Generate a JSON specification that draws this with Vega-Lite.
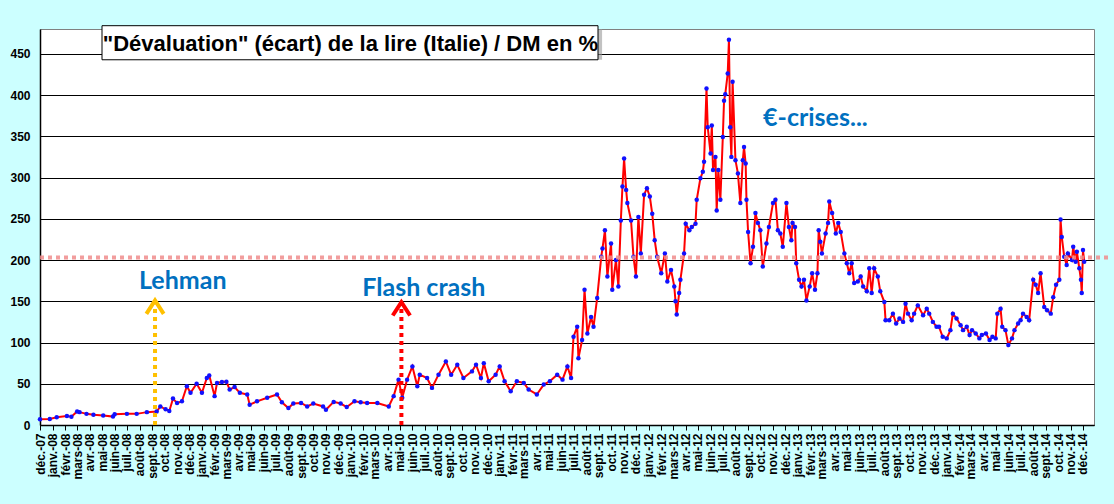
{
  "$schema": "https://vega.github.io/schema/vega-lite/v6.json",
  "autosize": {"type": "none"},
  "padding": {"left": 40, "top": 29, "right": 20, "bottom": 79},
  "width": 1054,
  "height": 396,
  "background": "#ccffff",
  "config": {
    "view": {"fill": "white", "stroke": "#808080", "strokeWidth": 1},
    "axis": {"labelFont": "Liberation Sans", "labelFontWeight": "bold", "labelFontSize": 12, "labelColor": "black", "domainColor": "black", "tickColor": "black", "title": null}
  },
  "datasets": {
    "serie": [
      {"d":"2007-12-01","v":7},{"d":"2007-12-25","v":7.4},{"d":"2008-01-11","v":9.4},{"d":"2008-02-05","v":11},{"d":"2008-02-16","v":10},
      {"d":"2008-03-01","v":16.4},{"d":"2008-03-07","v":15.6},{"d":"2008-03-24","v":13.5},{"d":"2008-04-10","v":12.3},{"d":"2008-05-04","v":11.5},
      {"d":"2008-05-28","v":10.2},{"d":"2008-06-01","v":13},{"d":"2008-07-01","v":13.5},{"d":"2008-07-25","v":13.5},{"d":"2008-08-19","v":15.6},
      {"d":"2008-09-12","v":16.4},{"d":"2008-09-21","v":22.5},{"d":"2008-10-04","v":19},{"d":"2008-10-13","v":17},{"d":"2008-10-22","v":32},
      {"d":"2008-11-01","v":26.7},{"d":"2008-11-13","v":28.7},{"d":"2008-11-25","v":47},{"d":"2008-12-04","v":39},{"d":"2008-12-19","v":50},
      {"d":"2009-01-01","v":39},{"d":"2009-01-13","v":57},{"d":"2009-01-19","v":60},{"d":"2009-02-01","v":35},{"d":"2009-02-07","v":51},
      {"d":"2009-02-19","v":52},{"d":"2009-03-02","v":52.5},{"d":"2009-03-10","v":43},{"d":"2009-03-22","v":46},{"d":"2009-04-04","v":39},
      {"d":"2009-04-22","v":37},{"d":"2009-04-28","v":24.6},{"d":"2009-05-16","v":28.7},{"d":"2009-06-10","v":33},{"d":"2009-07-04","v":37},
      {"d":"2009-07-16","v":27.5},{"d":"2009-08-01","v":20.5},{"d":"2009-08-13","v":26},{"d":"2009-09-01","v":26.7},{"d":"2009-09-16","v":22.5},
      {"d":"2009-10-01","v":26},{"d":"2009-10-25","v":22.5},{"d":"2009-11-01","v":18.5},{"d":"2009-11-20","v":28},{"d":"2009-12-07","v":26},
      {"d":"2009-12-22","v":21.7},{"d":"2010-01-10","v":28.7},{"d":"2010-01-25","v":27.5},{"d":"2010-02-10","v":26.7},{"d":"2010-03-07","v":26.7},
      {"d":"2010-04-04","v":22.5},{"d":"2010-04-16","v":35},{"d":"2010-04-28","v":55},{"d":"2010-05-07","v":33},{"d":"2010-05-19","v":55},
      {"d":"2010-06-01","v":71},{"d":"2010-06-13","v":47},{"d":"2010-06-19","v":61},{"d":"2010-07-07","v":57},{"d":"2010-07-19","v":45},
      {"d":"2010-08-04","v":61},{"d":"2010-08-22","v":77},{"d":"2010-09-04","v":61},{"d":"2010-09-19","v":73},{"d":"2010-10-04","v":57},
      {"d":"2010-10-25","v":65},{"d":"2010-11-04","v":73},{"d":"2010-11-16","v":57},{"d":"2010-11-23","v":75},{"d":"2010-12-05","v":53},
      {"d":"2010-12-22","v":61},{"d":"2011-01-01","v":71},{"d":"2011-01-13","v":53},{"d":"2011-01-28","v":41},{"d":"2011-02-12","v":53},
      {"d":"2011-03-01","v":51},{"d":"2011-03-13","v":43},{"d":"2011-04-02","v":37},{"d":"2011-04-19","v":49},{"d":"2011-05-04","v":53},
      {"d":"2011-05-22","v":61},{"d":"2011-06-04","v":55},{"d":"2011-06-16","v":71},{"d":"2011-06-25","v":57},{"d":"2011-07-01","v":107},
      {"d":"2011-07-10","v":119},{"d":"2011-07-13","v":81},{"d":"2011-07-22","v":103},{"d":"2011-07-28","v":164},{"d":"2011-08-04","v":111},
      {"d":"2011-08-13","v":131},{"d":"2011-08-19","v":119},{"d":"2011-08-28","v":154},{"d":"2011-09-07","v":204},{"d":"2011-09-10","v":214},
      {"d":"2011-09-16","v":236},{"d":"2011-09-22","v":180},{"d":"2011-10-01","v":220},{"d":"2011-10-04","v":164},{"d":"2011-10-13","v":200},
      {"d":"2011-10-19","v":168},{"d":"2011-10-25","v":248},{"d":"2011-10-29","v":289},{"d":"2011-11-02","v":323},{"d":"2011-11-07","v":285},
      {"d":"2011-11-10","v":269},{"d":"2011-11-19","v":248},{"d":"2011-11-25","v":204},{"d":"2011-12-01","v":180},{"d":"2011-12-07","v":252},
      {"d":"2011-12-13","v":208},{"d":"2011-12-21","v":279},{"d":"2011-12-28","v":287},{"d":"2012-01-04","v":277},{"d":"2012-01-10","v":256},
      {"d":"2012-01-16","v":224},{"d":"2012-01-22","v":204},{"d":"2012-02-01","v":184},{"d":"2012-02-10","v":208},{"d":"2012-02-16","v":174},
      {"d":"2012-02-25","v":188},{"d":"2012-03-04","v":168},{"d":"2012-03-07","v":150},{"d":"2012-03-10","v":134},{"d":"2012-03-16","v":160},
      {"d":"2012-03-19","v":176},{"d":"2012-03-28","v":208},{"d":"2012-04-01","v":244},{"d":"2012-04-10","v":236},{"d":"2012-04-16","v":240},
      {"d":"2012-04-25","v":244},{"d":"2012-04-28","v":273},{"d":"2012-05-07","v":299},{"d":"2012-05-13","v":307},{"d":"2012-05-16","v":319},
      {"d":"2012-05-22","v":408},{"d":"2012-05-25","v":361},{"d":"2012-06-01","v":329},{"d":"2012-06-04","v":363},{"d":"2012-06-07","v":309},
      {"d":"2012-06-13","v":325},{"d":"2012-06-16","v":260},{"d":"2012-06-20","v":309},{"d":"2012-06-25","v":273},{"d":"2012-07-01","v":349},
      {"d":"2012-07-04","v":393},{"d":"2012-07-07","v":401},{"d":"2012-07-13","v":426},{"d":"2012-07-16","v":467},{"d":"2012-07-19","v":361},
      {"d":"2012-07-22","v":325},{"d":"2012-07-25","v":416},{"d":"2012-08-01","v":321},{"d":"2012-08-07","v":305},{"d":"2012-08-13","v":269},
      {"d":"2012-08-19","v":321},{"d":"2012-08-22","v":337},{"d":"2012-08-26","v":317},{"d":"2012-08-28","v":273},{"d":"2012-09-01","v":234},
      {"d":"2012-09-07","v":196},{"d":"2012-09-13","v":216},{"d":"2012-09-19","v":257},{"d":"2012-09-25","v":245},{"d":"2012-10-01","v":236},
      {"d":"2012-10-07","v":192},{"d":"2012-10-16","v":220},{"d":"2012-10-22","v":240},{"d":"2012-11-01","v":269},{"d":"2012-11-07","v":273},
      {"d":"2012-11-13","v":236},{"d":"2012-11-19","v":232},{"d":"2012-11-25","v":216},{"d":"2012-12-04","v":269},{"d":"2012-12-10","v":240},
      {"d":"2012-12-16","v":224},{"d":"2012-12-19","v":245},{"d":"2012-12-25","v":240},{"d":"2012-12-28","v":196},{"d":"2013-01-04","v":176},
      {"d":"2013-01-10","v":168},{"d":"2013-01-16","v":176},{"d":"2013-01-22","v":151},{"d":"2013-01-30","v":168},{"d":"2013-02-05","v":184},
      {"d":"2013-02-12","v":164},{"d":"2013-02-18","v":184},{"d":"2013-02-21","v":236},{"d":"2013-02-25","v":222},{"d":"2013-03-01","v":208},
      {"d":"2013-03-10","v":232},{"d":"2013-03-16","v":245},{"d":"2013-03-19","v":271},{"d":"2013-03-26","v":257},{"d":"2013-04-04","v":232},
      {"d":"2013-04-10","v":245},{"d":"2013-04-16","v":234},{"d":"2013-04-25","v":208},{"d":"2013-05-01","v":196},{"d":"2013-05-07","v":184},
      {"d":"2013-05-13","v":196},{"d":"2013-05-19","v":172},{"d":"2013-05-28","v":174},{"d":"2013-06-04","v":180},{"d":"2013-06-10","v":168},
      {"d":"2013-06-19","v":162},{"d":"2013-06-25","v":190},{"d":"2013-07-01","v":160},{"d":"2013-07-07","v":190},{"d":"2013-07-16","v":180},
      {"d":"2013-07-22","v":162},{"d":"2013-08-01","v":149},{"d":"2013-08-04","v":127},{"d":"2013-08-13","v":127},{"d":"2013-08-22","v":135},
      {"d":"2013-08-30","v":123},{"d":"2013-09-07","v":129},{"d":"2013-09-16","v":125},{"d":"2013-09-22","v":147},{"d":"2013-09-28","v":135},
      {"d":"2013-10-07","v":127},{"d":"2013-10-13","v":135},{"d":"2013-10-22","v":145},{"d":"2013-11-04","v":133},{"d":"2013-11-13","v":141},
      {"d":"2013-11-19","v":135},{"d":"2013-11-28","v":125},{"d":"2013-12-07","v":119},{"d":"2013-12-13","v":119},{"d":"2013-12-22","v":107},
      {"d":"2014-01-01","v":105},{"d":"2014-01-10","v":115},{"d":"2014-01-16","v":135},{"d":"2014-01-25","v":129},{"d":"2014-02-04","v":121},
      {"d":"2014-02-10","v":115},{"d":"2014-02-19","v":119},{"d":"2014-02-26","v":109},{"d":"2014-03-04","v":115},{"d":"2014-03-13","v":111},
      {"d":"2014-03-22","v":105},{"d":"2014-03-28","v":109},{"d":"2014-04-07","v":111},{"d":"2014-04-16","v":103},{"d":"2014-04-23","v":107},
      {"d":"2014-05-01","v":105},{"d":"2014-05-05","v":135},{"d":"2014-05-13","v":141},{"d":"2014-05-17","v":119},{"d":"2014-05-25","v":115},
      {"d":"2014-06-01","v":97},{"d":"2014-06-10","v":105},{"d":"2014-06-16","v":115},{"d":"2014-06-25","v":123},{"d":"2014-07-01","v":127},
      {"d":"2014-07-07","v":135},{"d":"2014-07-16","v":131},{"d":"2014-07-22","v":127},{"d":"2014-08-01","v":176},{"d":"2014-08-07","v":170},
      {"d":"2014-08-13","v":160},{"d":"2014-08-19","v":184},{"d":"2014-08-28","v":143},{"d":"2014-09-04","v":139},{"d":"2014-09-13","v":135},
      {"d":"2014-09-19","v":155},{"d":"2014-09-26","v":170},{"d":"2014-10-04","v":176},{"d":"2014-10-07","v":249},{"d":"2014-10-10","v":228},
      {"d":"2014-10-16","v":204},{"d":"2014-10-22","v":194},{"d":"2014-10-25","v":208},{"d":"2014-11-04","v":200},{"d":"2014-11-07","v":216},
      {"d":"2014-11-13","v":198},{"d":"2014-11-16","v":210},{"d":"2014-11-22","v":190},{"d":"2014-11-26","v":176},{"d":"2014-11-28","v":160},
      {"d":"2014-12-01","v":212},{"d":"2014-12-04","v":198}
    ],
    "seuil": [{"d": "2007-12-01", "d2": "2015-02-05", "v": 203}],
    "fleches": [
      {"nom": "Lehman", "d": "2008-09-08", "v": 0, "v2": 146, "pointe": 151},
      {"nom": "Flash crash", "d": "2010-05-05", "v": 0, "v2": 144, "pointe": 149}
    ],
    "notes": [
      {"t": "Lehman", "d": "2008-11-15", "v": 174.7},
      {"t": "Flash crash", "d": "2010-06-29", "v": 166},
      {"t": "€-crises...", "d": "2013-02-13", "v": 372}
    ],
    "titre": [{"t": "\"Dévaluation\" (écart) de la lire (Italie) / DM en %", "d": "2008-05-01", "d2": "2011-08-30", "v": 484, "v2": 442.7, "dc": "2009-12-31", "vc": 463}]
  },
  "data": {"name": "serie"},
  "encoding": {
    "x": {
      "field": "d", "type": "temporal",
      "scale": {"domain": ["2007-12-01", "2014-12-28"]},
      "axis": {
        "tickCount": {"interval": "month", "step": 1},
        "labelExpr": "['janv.','févr.','mars','avr.','mai','juin','juil.','août','sept.','oct.','nov.','déc.'][month(datum.value)] + '-' + timeFormat(datum.value, '%y')",
        "labelAngle": 270, "labelOverlap": false, "labelBound": false, "labelFlush": false,
        "labelPadding": 3, "tickSize": 5, "grid": false, "domainWidth": 1.5
      }
    },
    "y": {
      "field": "v", "type": "quantitative",
      "scale": {"domain": [0, 480], "nice": false},
      "axis": {"values": [0, 50, 100, 150, 200, 250, 300, 350, 400, 450], "ticks": false, "labelPadding": 10, "grid": true, "gridColor": "black", "gridWidth": 1, "gridOpacity": 1, "domainWidth": 1.5}
    }
  },
  "layer": [
    {"mark": {"type": "line", "color": "#ff0000", "strokeWidth": 2}},
    {"mark": {"type": "point", "filled": true, "color": "#1010ff", "size": 20, "opacity": 1}},
    {
      "data": {"name": "seuil"},
      "mark": {"type": "rule", "color": "#f08c8c", "strokeWidth": 4, "strokeDash": [4, 4], "opacity": 0.85},
      "encoding": {
        "x2": {"field": "d2"}
      }
    },
    {
      "data": {"name": "fleches"},
      "mark": {"type": "rule", "strokeWidth": 4, "strokeDash": [4, 4]},
      "encoding": {
        "y2": {"field": "v2"},
        "color": {"field": "nom", "type": "nominal", "scale": {"domain": ["Lehman", "Flash crash"], "range": ["#ffc000", "#ff0000"]}, "legend": null}
      }
    },
    {
      "data": {"name": "fleches"},
      "mark": {"type": "point", "shape": "M-1,1.55L0,0L1,1.55", "filled": false, "strokeWidth": 4, "size": 300, "opacity": 1},
      "encoding": {
        "y": {"field": "pointe", "type": "quantitative"},
        "color": {"field": "nom", "type": "nominal", "legend": null}
      }
    },
    {
      "data": {"name": "notes"},
      "mark": {"type": "text", "font": "Lato", "fontWeight": "bold", "fontSize": 25, "color": "#0070c0", "align": "center", "baseline": "middle"},
      "encoding": {"text": {"field": "t"}}
    },
    {
      "data": {"name": "titre"},
      "transform": [{"calculate": "timeOffset('day', toDate(datum.d), 10)", "as": "ds"}, {"calculate": "timeOffset('day', toDate(datum.d2), 10)", "as": "ds2"}],
      "mark": {"type": "rect", "color": "#9a9a9a", "opacity": 0.6},
      "encoding": {
        "x": {"field": "ds", "type": "temporal"},
        "x2": {"field": "ds2"},
        "y": {"field": "v2", "type": "quantitative"},
        "y2": {"datum": 480}
      }
    },
    {
      "data": {"name": "titre"},
      "mark": {"type": "rect", "fill": "white", "stroke": "black", "strokeWidth": 1},
      "encoding": {
        "x2": {"field": "d2"},
        "y2": {"field": "v2"}
      }
    },
    {
      "data": {"name": "titre"},
      "mark": {"type": "text", "font": "Liberation Sans", "fontWeight": "bold", "fontSize": 22, "color": "black", "align": "center", "baseline": "middle", "dy": 1},
      "encoding": {
        "x": {"field": "dc", "type": "temporal"},
        "y": {"field": "vc", "type": "quantitative"},
        "text": {"field": "t"}
      }
    }
  ]
}
